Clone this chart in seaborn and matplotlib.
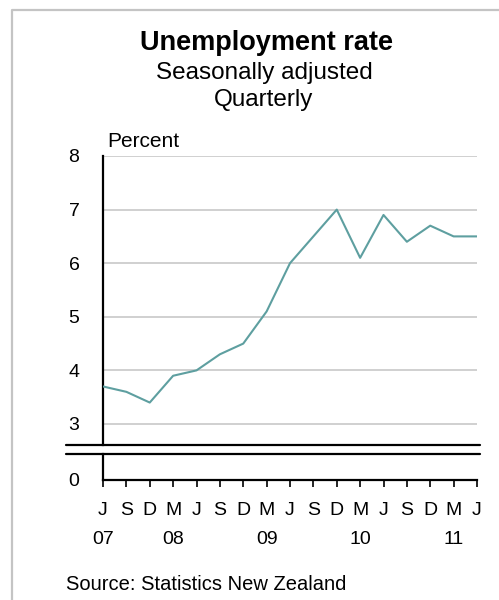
import matplotlib
matplotlib.use("Agg")
import matplotlib.pyplot as plt
from matplotlib.lines import Line2D
import seaborn as sns
import pandas as pd

# Quarterly unemployment rate (percent), June 2007 to June 2011
quarters = ["J", "S", "D", "M", "J", "S", "D", "M", "J",
            "S", "D", "M", "J", "S", "D", "M", "J"]
rate = [3.7, 3.6, 3.4, 3.9, 4.0, 4.3, 4.5, 5.1, 6.0,
        6.5, 7.0, 6.1, 6.9, 6.4, 6.7, 6.5, 6.5]
year_labels = ["07", "08", "09", "10", "11"]
year_positions = [0, 3, 7, 11, 15]
y_ticks = [3, 4, 5, 6, 7, 8]

df = pd.DataFrame({"idx": range(len(rate)), "rate": rate})

sns.set_style("white")
plt.rcParams["font.family"] = ["Liberation Sans", "DejaVu Sans"]
plt.rcParams["text.color"] = "black"
plt.rcParams["xtick.color"] = "black"
plt.rcParams["ytick.color"] = "black"
plt.rcParams["xtick.labelcolor"] = "black"
plt.rcParams["ytick.labelcolor"] = "black"

W, H = 499, 600
fig = plt.figure(figsize=(W / 100, H / 100), dpi=100)


def fx(px):
    return px / W


def fy(py):
    return 1 - py / H


left, right = 103, 477
n = len(rate)
ax = fig.add_axes([fx(left), fy(445), fx(right - left), fy(156) - fy(445)])
axb = fig.add_axes([fx(left), fy(480), fx(right - left), fy(454) - fy(480)])

line_color = "#5e9fa0"
grid_color = "#c8c8c8"
tick_fs = 14

# Upper panel: the series
sns.lineplot(data=df, x="idx", y="rate", ax=ax, color=line_color,
             linewidth=1.5, zorder=3)
ax.set_xlim(0, n - 1)
ax.set_ylim(2.608, 8)
ax.set_yticks(y_ticks)
ax.set_yticklabels([str(v) for v in y_ticks])
ax.set_xticks([])
ax.set_xlabel("")
ax.set_ylabel("")
for v in y_ticks:
    ax.axhline(v, color=grid_color, linewidth=1.2, zorder=1)
ax.tick_params(axis="y", length=0, pad=17, labelsize=tick_fs)
for s in ["top", "right", "bottom"]:
    ax.spines[s].set_visible(False)
ax.spines["left"].set_linewidth(1.6)
ax.spines["left"].set_color("black")

# Lower panel: zero baseline with quarter ticks
axb.set_xlim(0, n - 1)
axb.set_ylim(0, 1)
axb.set_yticks([0])
axb.set_yticklabels(["0"])
axb.set_xticks(range(len(quarters)))
axb.set_xticklabels(quarters)
axb.tick_params(axis="y", length=0, pad=17, labelsize=tick_fs)
axb.tick_params(axis="x", direction="out", length=5, width=1.2,
                color="black", pad=11, labelsize=tick_fs, bottom=True)
for s in ["top", "right"]:
    axb.spines[s].set_visible(False)
for s in ["left", "bottom"]:
    axb.spines[s].set_linewidth(1.6)
    axb.spines[s].set_color("black")
axb.set_facecolor("none")

# Year labels under the quarter letters
for pos, lab in zip(year_positions, year_labels):
    fig.text(fx(left + (right - left) * pos / (n - 1)), fy(544), lab,
             ha="center", va="baseline", fontsize=tick_fs)

# Axis break lines
for py in (445, 454):
    fig.add_artist(Line2D([fx(66), fx(480)], [fy(py), fy(py)],
                          transform=fig.transFigure, color="black",
                          linewidth=1.6))

# Outer frame (top and left edges)
fig.add_artist(Line2D([fx(12), fx(12), 1.0], [0.0, fy(10), fy(10)],
                      transform=fig.transFigure, color="#c4c4c4",
                      linewidth=1.6))

# Titles and annotations
fig.text(fx(266), fy(50), "Unemployment rate", ha="center", va="baseline",
         fontsize=19.5, fontweight="bold")
fig.text(fx(264), fy(79), "Seasonally adjusted", ha="center", va="baseline",
         fontsize=17.5)
fig.text(fx(264), fy(106), "Quarterly", ha="center", va="baseline",
         fontsize=17.5)
fig.text(fx(107), fy(147), "Percent", ha="left", va="baseline",
         fontsize=15)
fig.text(fx(66), fy(590), "Source: Statistics New Zealand", ha="left",
         va="baseline", fontsize=14.5)

fig.savefig("out.png", dpi=100)
